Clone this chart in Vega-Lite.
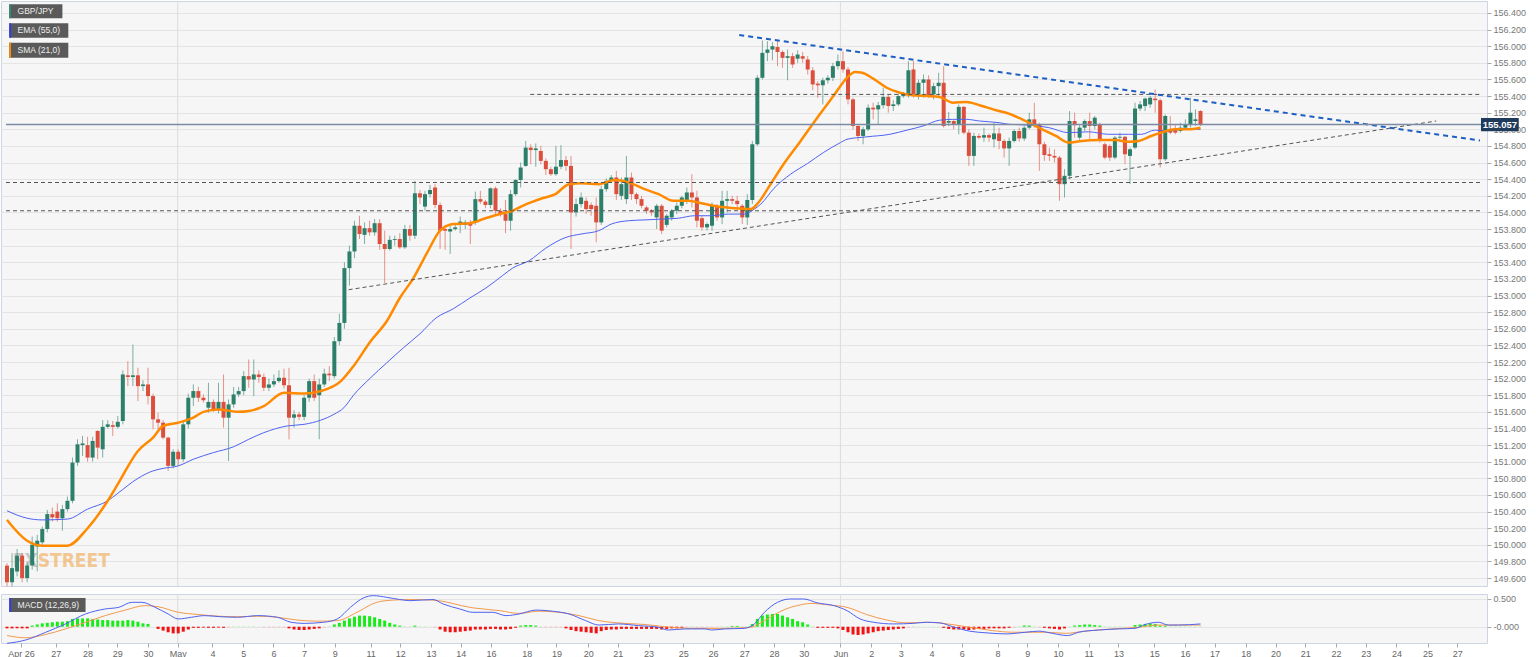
{
"$schema":"https://vega.github.io/schema/vega-lite/v6.json",
"padding":0,
"background":"white",
"config":{"view":{"stroke":"#cdd4e2","fill":"#f6f6f6"},"axis":{"labelFont":"Liberation Sans","labelFontSize":9,"labelColor":"#666666","tickColor":"#aaaaaa","domain":false,"gridColor":"#e4e4e4","labelOverlap":false,"labelBound":false,"tickCount":300},"concat":{"spacing":5},"text":{"font":"Liberation Sans"}},
"datasets":{
"one":[{"t":""}],
"candles":[
{"i":0,"o":149.75,"h":149.78,"l":149.5,"c":149.55,"m":-0.03},
{"i":1,"o":149.55,"h":149.9,"l":149.5,"c":149.72,"m":-0.03},
{"i":2,"o":149.68,"h":149.95,"l":149.62,"c":149.87,"m":-0.03},
{"i":3,"o":149.87,"h":149.9,"l":149.55,"c":149.6,"m":-0.03},
{"i":4,"o":149.6,"h":149.8,"l":149.55,"c":149.75,"m":-0.03},
{"i":5,"o":149.75,"h":150.1,"l":149.7,"c":150.0,"m":0.02},
{"i":6,"o":149.98,"h":150.12,"l":149.68,"c":150.05,"m":0.04},
{"i":7,"o":150.03,"h":150.22,"l":149.98,"c":150.19,"m":0.06},
{"i":8,"o":150.19,"h":150.42,"l":150.15,"c":150.37,"m":0.07},
{"i":9,"o":150.37,"h":150.45,"l":150.28,"c":150.33,"m":0.08},
{"i":10,"o":150.4,"h":150.5,"l":150.28,"c":150.32,"m":0.09},
{"i":11,"o":150.32,"h":150.48,"l":150.17,"c":150.43,"m":0.09},
{"i":12,"o":150.43,"h":150.58,"l":150.4,"c":150.53,"m":0.1},
{"i":13,"o":150.53,"h":151.05,"l":150.5,"c":150.99,"m":0.14},
{"i":14,"o":150.99,"h":151.27,"l":150.95,"c":151.21,"m":0.15},
{"i":15,"o":151.2,"h":151.31,"l":151.07,"c":151.22,"m":0.15},
{"i":16,"o":151.2,"h":151.3,"l":151.0,"c":151.05,"m":0.15},
{"i":17,"o":151.05,"h":151.3,"l":151.0,"c":151.25,"m":0.14},
{"i":18,"o":151.37,"h":151.38,"l":151.03,"c":151.17,"m":0.13},
{"i":19,"o":151.15,"h":151.5,"l":151.05,"c":151.42,"m":0.12},
{"i":20,"o":151.42,"h":151.5,"l":151.4,"c":151.45,"m":0.12},
{"i":21,"o":151.44,"h":151.49,"l":151.31,"c":151.42,"m":0.11},
{"i":22,"o":151.42,"h":151.55,"l":151.4,"c":151.48,"m":0.11},
{"i":23,"o":151.49,"h":152.1,"l":151.45,"c":152.05,"m":0.11},
{"i":24,"o":152.04,"h":152.21,"l":151.91,"c":152.02,"m":0.12},
{"i":25,"o":152.02,"h":152.41,"l":151.91,"c":152.04,"m":0.11},
{"i":26,"o":152.04,"h":152.13,"l":151.73,"c":151.91,"m":0.09},
{"i":27,"o":151.91,"h":151.98,"l":151.85,"c":151.93,"m":0.06},
{"i":28,"o":151.93,"h":152.13,"l":151.69,"c":151.79,"m":0.05},
{"i":29,"o":151.79,"h":151.82,"l":151.39,"c":151.51,"m":0.0},
{"i":30,"o":151.51,"h":151.59,"l":151.39,"c":151.47,"m":-0.04},
{"i":31,"o":151.47,"h":151.5,"l":151.27,"c":151.29,"m":-0.07},
{"i":32,"o":151.29,"h":151.3,"l":150.89,"c":150.95,"m":-0.1},
{"i":33,"o":150.95,"h":151.15,"l":150.92,"c":151.12,"m":-0.12},
{"i":34,"o":151.12,"h":151.15,"l":150.95,"c":151.03,"m":-0.12},
{"i":35,"o":151.03,"h":151.5,"l":151.0,"c":151.45,"m":-0.09},
{"i":36,"o":151.45,"h":151.82,"l":151.4,"c":151.77,"m":-0.05},
{"i":37,"o":151.77,"h":151.93,"l":151.67,"c":151.85,"m":-0.02},
{"i":38,"o":151.85,"h":151.9,"l":151.72,"c":151.77,"m":-0.02},
{"i":39,"o":151.77,"h":151.81,"l":151.71,"c":151.74,"m":-0.015},
{"i":40,"o":151.65,"h":151.95,"l":151.59,"c":151.72,"m":-0.02},
{"i":41,"o":151.72,"h":151.75,"l":151.6,"c":151.63,"m":-0.02},
{"i":42,"o":151.63,"h":151.95,"l":151.58,"c":151.72,"m":-0.015},
{"i":43,"o":151.72,"h":152.05,"l":151.41,"c":151.53,"m":-0.02},
{"i":44,"o":151.53,"h":151.75,"l":151.01,"c":151.69,"m":-0.01},
{"i":45,"o":151.69,"h":151.9,"l":151.65,"c":151.81,"m":0.01},
{"i":46,"o":151.81,"h":151.9,"l":151.78,"c":151.85,"m":0.01},
{"i":47,"o":151.85,"h":152.09,"l":151.8,"c":152.03,"m":0.01},
{"i":48,"o":152.03,"h":152.23,"l":151.89,"c":151.99,"m":0.01},
{"i":49,"o":151.99,"h":152.23,"l":151.79,"c":152.05,"m":0.01},
{"i":50,"o":152.05,"h":152.1,"l":151.95,"c":152.02,"m":0.005},
{"i":51,"o":152.02,"h":152.06,"l":151.85,"c":151.89,"m":-0.01},
{"i":52,"o":151.89,"h":152.0,"l":151.85,"c":151.93,"m":-0.01},
{"i":53,"o":151.93,"h":152.05,"l":151.9,"c":151.97,"m":-0.01},
{"i":54,"o":151.97,"h":152.1,"l":151.95,"c":152.01,"m":-0.01},
{"i":55,"o":152.01,"h":152.12,"l":151.88,"c":151.92,"m":-0.01},
{"i":56,"o":151.92,"h":152.13,"l":151.27,"c":151.53,"m":-0.03},
{"i":57,"o":151.53,"h":151.62,"l":151.41,"c":151.57,"m":-0.05},
{"i":58,"o":151.57,"h":151.6,"l":151.5,"c":151.54,"m":-0.06},
{"i":59,"o":151.54,"h":151.8,"l":151.5,"c":151.77,"m":-0.06},
{"i":60,"o":151.77,"h":152.0,"l":151.72,"c":151.97,"m":-0.05},
{"i":61,"o":151.97,"h":152.05,"l":151.73,"c":151.77,"m":-0.04},
{"i":62,"o":151.8,"h":152.0,"l":151.27,"c":151.93,"m":-0.03},
{"i":63,"o":151.93,"h":152.12,"l":151.9,"c":152.06,"m":-0.01},
{"i":64,"o":152.06,"h":152.15,"l":151.97,"c":152.04,"m":0.01},
{"i":65,"o":152.03,"h":152.5,"l":152.0,"c":152.45,"m":0.04},
{"i":66,"o":152.45,"h":152.78,"l":152.4,"c":152.67,"m":0.07},
{"i":67,"o":152.67,"h":153.4,"l":152.6,"c":153.33,"m":0.11},
{"i":68,"o":153.33,"h":153.6,"l":153.12,"c":153.53,"m":0.15},
{"i":69,"o":153.53,"h":153.9,"l":153.45,"c":153.84,"m":0.18},
{"i":70,"o":153.84,"h":153.96,"l":153.68,"c":153.74,"m":0.2},
{"i":71,"o":153.73,"h":153.88,"l":153.62,"c":153.81,"m":0.2},
{"i":72,"o":153.81,"h":153.9,"l":153.72,"c":153.76,"m":0.19},
{"i":73,"o":153.76,"h":153.92,"l":153.72,"c":153.87,"m":0.17},
{"i":74,"o":153.87,"h":153.92,"l":153.55,"c":153.62,"m":0.14},
{"i":75,"o":153.62,"h":153.78,"l":153.15,"c":153.56,"m":0.11},
{"i":76,"o":153.56,"h":153.72,"l":153.54,"c":153.67,"m":0.07},
{"i":77,"o":153.67,"h":153.72,"l":153.6,"c":153.68,"m":0.04},
{"i":78,"o":153.68,"h":153.75,"l":153.56,"c":153.58,"m":0.02},
{"i":79,"o":153.58,"h":153.85,"l":153.56,"c":153.8,"m":0.01},
{"i":80,"o":153.8,"h":153.85,"l":153.66,"c":153.72,"m":0.01},
{"i":81,"o":153.72,"h":154.38,"l":153.68,"c":154.23,"m":0.02},
{"i":82,"o":154.23,"h":154.27,"l":154.1,"c":154.18,"m":0.01},
{"i":83,"o":154.07,"h":154.26,"l":154.02,"c":154.22,"m":0.01},
{"i":84,"o":154.22,"h":154.33,"l":154.18,"c":154.27,"m":0.005},
{"i":85,"o":154.3,"h":154.34,"l":154.05,"c":154.09,"m":-0.01},
{"i":86,"o":154.09,"h":154.12,"l":153.56,"c":153.78,"m":-0.05},
{"i":87,"o":153.8,"h":153.85,"l":153.55,"c":153.78,"m":-0.09},
{"i":88,"o":153.77,"h":153.84,"l":153.5,"c":153.8,"m":-0.1},
{"i":89,"o":153.8,"h":153.85,"l":153.78,"c":153.82,"m":-0.1},
{"i":90,"o":153.85,"h":153.95,"l":153.75,"c":153.89,"m":-0.09},
{"i":91,"o":153.85,"h":153.91,"l":153.8,"c":153.88,"m":-0.08},
{"i":92,"o":153.88,"h":153.91,"l":153.62,"c":153.84,"m":-0.07},
{"i":93,"o":153.88,"h":154.25,"l":153.85,"c":154.16,"m":-0.05},
{"i":94,"o":154.16,"h":154.26,"l":154.1,"c":154.13,"m":-0.05},
{"i":95,"o":154.13,"h":154.15,"l":154.05,"c":154.09,"m":-0.05},
{"i":96,"o":154.09,"h":154.3,"l":154.05,"c":154.29,"m":-0.04},
{"i":97,"o":154.29,"h":154.31,"l":153.98,"c":154.02,"m":-0.04},
{"i":98,"o":154.02,"h":154.05,"l":153.95,"c":153.98,"m":-0.05},
{"i":99,"o":153.98,"h":154.15,"l":153.75,"c":153.9,"m":-0.05},
{"i":100,"o":153.9,"h":154.27,"l":153.78,"c":154.22,"m":-0.04},
{"i":101,"o":154.22,"h":154.4,"l":154.2,"c":154.39,"m":-0.02},
{"i":102,"o":154.39,"h":154.6,"l":154.3,"c":154.54,"m":0.02},
{"i":103,"o":154.56,"h":154.86,"l":154.55,"c":154.78,"m":0.03},
{"i":104,"o":154.78,"h":154.82,"l":154.58,"c":154.75,"m":0.03},
{"i":105,"o":154.75,"h":154.83,"l":154.55,"c":154.77,"m":0.02},
{"i":106,"o":154.74,"h":154.8,"l":154.58,"c":154.62,"m":-0.01},
{"i":107,"o":154.62,"h":154.65,"l":154.45,"c":154.52,"m":-0.01},
{"i":108,"o":154.52,"h":154.55,"l":154.44,"c":154.46,"m":-0.01},
{"i":109,"o":154.46,"h":154.8,"l":154.44,"c":154.55,"m":-0.01},
{"i":110,"o":154.55,"h":154.81,"l":154.52,"c":154.63,"m":-0.01},
{"i":111,"o":154.63,"h":154.68,"l":154.5,"c":154.56,"m":-0.03},
{"i":112,"o":154.56,"h":154.68,"l":153.56,"c":154.0,"m":-0.06},
{"i":113,"o":154.0,"h":154.17,"l":153.95,"c":154.1,"m":-0.08},
{"i":114,"o":154.1,"h":154.24,"l":154.06,"c":154.18,"m":-0.09},
{"i":115,"o":154.14,"h":154.18,"l":153.98,"c":154.04,"m":-0.1},
{"i":116,"o":154.09,"h":154.12,"l":153.96,"c":154.04,"m":-0.11},
{"i":117,"o":154.08,"h":154.18,"l":153.64,"c":153.88,"m":-0.12},
{"i":118,"o":153.88,"h":154.32,"l":153.85,"c":154.28,"m":-0.08},
{"i":119,"o":154.28,"h":154.41,"l":154.25,"c":154.38,"m":-0.06},
{"i":120,"o":154.38,"h":154.45,"l":154.36,"c":154.42,"m":-0.05},
{"i":121,"o":154.42,"h":154.5,"l":154.15,"c":154.22,"m":-0.05},
{"i":122,"o":154.2,"h":154.42,"l":154.15,"c":154.34,"m":-0.04},
{"i":123,"o":154.16,"h":154.68,"l":154.1,"c":154.42,"m":-0.04},
{"i":124,"o":154.42,"h":154.48,"l":154.15,"c":154.22,"m":-0.04},
{"i":125,"o":154.22,"h":154.24,"l":154.1,"c":154.16,"m":-0.04},
{"i":126,"o":154.16,"h":154.2,"l":154.05,"c":154.08,"m":-0.04},
{"i":127,"o":154.06,"h":154.08,"l":153.98,"c":154.02,"m":-0.04},
{"i":128,"o":154.02,"h":154.04,"l":153.96,"c":154.0,"m":-0.04},
{"i":129,"o":153.94,"h":154.1,"l":153.8,"c":154.08,"m":-0.04},
{"i":130,"o":154.08,"h":154.1,"l":153.74,"c":153.78,"m":-0.05},
{"i":131,"o":153.85,"h":153.98,"l":153.82,"c":153.96,"m":-0.04},
{"i":132,"o":153.94,"h":154.04,"l":153.9,"c":154.02,"m":-0.03},
{"i":133,"o":154.02,"h":154.12,"l":153.98,"c":154.08,"m":-0.03},
{"i":134,"o":154.08,"h":154.2,"l":154.05,"c":154.18,"m":-0.02},
{"i":135,"o":154.14,"h":154.3,"l":154.1,"c":154.24,"m":-0.01},
{"i":136,"o":154.24,"h":154.46,"l":154.06,"c":154.18,"m":0.01},
{"i":137,"o":154.18,"h":154.26,"l":153.82,"c":153.9,"m":-0.01},
{"i":138,"o":153.93,"h":153.96,"l":153.78,"c":153.82,"m":-0.01},
{"i":139,"o":153.82,"h":153.88,"l":153.78,"c":153.86,"m":-0.01},
{"i":140,"o":153.84,"h":154.12,"l":153.78,"c":154.08,"m":-0.01},
{"i":141,"o":154.08,"h":154.1,"l":153.9,"c":153.94,"m":-0.005},
{"i":142,"o":153.94,"h":154.26,"l":153.86,"c":154.14,"m":0.01},
{"i":143,"o":154.14,"h":154.26,"l":154.0,"c":154.16,"m":0.01},
{"i":144,"o":154.16,"h":154.2,"l":154.1,"c":154.14,"m":0.015},
{"i":145,"o":154.14,"h":154.2,"l":154.05,"c":154.1,"m":0.015},
{"i":146,"o":154.08,"h":154.1,"l":153.86,"c":153.94,"m":0.01},
{"i":147,"o":153.94,"h":154.22,"l":153.85,"c":154.15,"m":0.01},
{"i":148,"o":154.15,"h":154.86,"l":154.1,"c":154.82,"m":0.05},
{"i":149,"o":154.82,"h":155.65,"l":154.8,"c":155.62,"m":0.14},
{"i":150,"o":155.62,"h":156.07,"l":155.6,"c":155.92,"m":0.2},
{"i":151,"o":155.92,"h":156.06,"l":155.82,"c":155.96,"m":0.22},
{"i":152,"o":155.96,"h":156.05,"l":155.83,"c":156.0,"m":0.23},
{"i":153,"o":155.99,"h":156.06,"l":155.76,"c":155.93,"m":0.23},
{"i":154,"o":155.93,"h":155.95,"l":155.74,"c":155.86,"m":0.2},
{"i":155,"o":155.86,"h":155.96,"l":155.59,"c":155.88,"m":0.17},
{"i":156,"o":155.88,"h":155.92,"l":155.74,"c":155.78,"m":0.14},
{"i":157,"o":155.85,"h":155.95,"l":155.8,"c":155.9,"m":0.1},
{"i":158,"o":155.88,"h":155.93,"l":155.8,"c":155.85,"m":0.08},
{"i":159,"o":155.84,"h":155.88,"l":155.66,"c":155.72,"m":0.04},
{"i":160,"o":155.71,"h":155.75,"l":155.47,"c":155.54,"m":0.01},
{"i":161,"o":155.55,"h":155.58,"l":155.38,"c":155.53,"m":-0.02},
{"i":162,"o":155.53,"h":155.62,"l":155.3,"c":155.59,"m":-0.02},
{"i":163,"o":155.59,"h":155.65,"l":155.55,"c":155.62,"m":-0.02},
{"i":164,"o":155.62,"h":155.8,"l":155.58,"c":155.76,"m":-0.02},
{"i":165,"o":155.76,"h":155.9,"l":155.72,"c":155.82,"m":-0.03},
{"i":166,"o":155.82,"h":155.94,"l":155.68,"c":155.72,"m":-0.06},
{"i":167,"o":155.72,"h":155.75,"l":155.3,"c":155.36,"m":-0.1},
{"i":168,"o":155.36,"h":155.38,"l":155.0,"c":155.04,"m":-0.14},
{"i":169,"o":155.04,"h":155.05,"l":154.86,"c":154.92,"m":-0.15},
{"i":170,"o":154.92,"h":155.03,"l":154.82,"c":155.0,"m":-0.14},
{"i":171,"o":155.0,"h":155.3,"l":154.98,"c":155.26,"m":-0.12},
{"i":172,"o":155.26,"h":155.32,"l":155.12,"c":155.24,"m":-0.1},
{"i":173,"o":155.24,"h":155.33,"l":155.06,"c":155.29,"m":-0.08},
{"i":174,"o":155.29,"h":155.5,"l":155.25,"c":155.39,"m":-0.07},
{"i":175,"o":155.39,"h":155.42,"l":155.2,"c":155.28,"m":-0.06},
{"i":176,"o":155.28,"h":155.35,"l":155.22,"c":155.3,"m":-0.05},
{"i":177,"o":155.3,"h":155.42,"l":155.28,"c":155.4,"m":-0.04},
{"i":178,"o":155.4,"h":155.45,"l":155.38,"c":155.42,"m":-0.03},
{"i":179,"o":155.42,"h":155.82,"l":155.38,"c":155.71,"m":-0.01},
{"i":180,"o":155.72,"h":155.82,"l":155.38,"c":155.42,"m":0.01},
{"i":181,"o":155.42,"h":155.6,"l":155.36,"c":155.56,"m":0.005},
{"i":182,"o":155.56,"h":155.66,"l":155.38,"c":155.6,"m":0.005},
{"i":183,"o":155.6,"h":155.65,"l":155.38,"c":155.4,"m":0.005},
{"i":184,"o":155.42,"h":155.56,"l":155.36,"c":155.52,"m":0.005},
{"i":185,"o":155.52,"h":155.68,"l":155.38,"c":155.56,"m":0.005},
{"i":186,"o":155.56,"h":155.76,"l":155.02,"c":155.04,"m":-0.02},
{"i":187,"o":155.08,"h":155.21,"l":155.04,"c":155.1,"m":-0.04},
{"i":188,"o":155.1,"h":155.12,"l":155.0,"c":155.06,"m":-0.05},
{"i":189,"o":155.06,"h":155.3,"l":154.94,"c":155.27,"m":-0.05},
{"i":190,"o":155.27,"h":155.28,"l":154.94,"c":154.96,"m":-0.05},
{"i":191,"o":154.96,"h":155.0,"l":154.56,"c":154.68,"m":-0.06},
{"i":192,"o":154.68,"h":154.96,"l":154.56,"c":154.92,"m":-0.05},
{"i":193,"o":154.92,"h":154.95,"l":154.88,"c":154.9,"m":-0.04},
{"i":194,"o":154.9,"h":155.02,"l":154.85,"c":154.93,"m":-0.04},
{"i":195,"o":154.93,"h":154.95,"l":154.85,"c":154.9,"m":-0.03},
{"i":196,"o":154.88,"h":155.08,"l":154.78,"c":154.95,"m":-0.03},
{"i":197,"o":154.95,"h":155.02,"l":154.76,"c":154.86,"m":-0.03},
{"i":198,"o":154.86,"h":154.88,"l":154.66,"c":154.77,"m":-0.03},
{"i":199,"o":154.77,"h":154.9,"l":154.56,"c":154.86,"m":-0.02},
{"i":200,"o":154.86,"h":155.0,"l":154.84,"c":154.98,"m":-0.01},
{"i":201,"o":154.98,"h":155.02,"l":154.85,"c":154.89,"m":0.01},
{"i":202,"o":154.89,"h":155.04,"l":154.86,"c":155.02,"m":0.02},
{"i":203,"o":155.02,"h":155.2,"l":155.0,"c":155.12,"m":0.02},
{"i":204,"o":155.12,"h":155.32,"l":155.02,"c":155.06,"m":0.01},
{"i":205,"o":155.06,"h":155.08,"l":154.5,"c":154.82,"m":-0.01},
{"i":206,"o":154.82,"h":154.85,"l":154.62,"c":154.69,"m":-0.02},
{"i":207,"o":154.7,"h":154.78,"l":154.62,"c":154.68,"m":-0.03},
{"i":208,"o":154.68,"h":154.76,"l":154.6,"c":154.66,"m":-0.04},
{"i":209,"o":154.66,"h":154.68,"l":154.14,"c":154.34,"m":-0.05},
{"i":210,"o":154.34,"h":154.52,"l":154.18,"c":154.44,"m":-0.03},
{"i":211,"o":154.44,"h":155.22,"l":154.4,"c":155.1,"m":0.01},
{"i":212,"o":155.1,"h":155.2,"l":154.9,"c":155.05,"m":0.02},
{"i":213,"o":154.9,"h":155.05,"l":154.86,"c":155.02,"m":0.03},
{"i":214,"o":155.02,"h":155.12,"l":154.98,"c":155.1,"m":0.04},
{"i":215,"o":155.1,"h":155.2,"l":154.88,"c":155.04,"m":0.04},
{"i":216,"o":155.04,"h":155.16,"l":155.0,"c":155.14,"m":0.03},
{"i":217,"o":155.06,"h":155.08,"l":154.84,"c":154.86,"m":0.02},
{"i":218,"o":154.82,"h":154.84,"l":154.64,"c":154.66,"m":0.01},
{"i":219,"o":154.8,"h":154.82,"l":154.62,"c":154.66,"m":0.01},
{"i":220,"o":154.66,"h":154.92,"l":154.64,"c":154.9,"m":0.01},
{"i":221,"o":154.9,"h":154.96,"l":154.88,"c":154.91,"m":0.01},
{"i":222,"o":154.91,"h":154.92,"l":154.58,"c":154.7,"m":0.005},
{"i":223,"o":154.68,"h":154.78,"l":154.34,"c":154.76,"m":0.005},
{"i":224,"o":154.78,"h":155.32,"l":154.76,"c":155.25,"m":0.03},
{"i":225,"o":155.25,"h":155.34,"l":155.22,"c":155.3,"m":0.04},
{"i":226,"o":155.28,"h":155.38,"l":155.22,"c":155.37,"m":0.05},
{"i":227,"o":155.3,"h":155.4,"l":155.26,"c":155.38,"m":0.06},
{"i":228,"o":155.37,"h":155.48,"l":155.2,"c":155.35,"m":0.05},
{"i":229,"o":155.35,"h":155.37,"l":154.54,"c":154.64,"m":0.02},
{"i":230,"o":154.64,"h":155.18,"l":154.62,"c":155.16,"m":0.02},
{"i":231,"o":155.0,"h":155.16,"l":154.94,"c":154.96,"m":0.01},
{"i":232,"o":154.99,"h":155.05,"l":154.94,"c":154.96,"m":0.01},
{"i":233,"o":154.98,"h":155.08,"l":154.96,"c":155.02,"m":0.01},
{"i":234,"o":155.02,"h":155.12,"l":155.0,"c":155.06,"m":0.01},
{"i":235,"o":155.05,"h":155.38,"l":155.02,"c":155.2,"m":0.01},
{"i":236,"o":155.1,"h":155.24,"l":155.04,"c":155.12,"m":0.01},
{"i":237,"o":155.22,"h":155.23,"l":155.04,"c":155.057,"m":0.01}
],
"sma":[{"i":0,"v":150.3},{"i":4,"v":150.05},{"i":7,"v":149.99},{"i":12,"v":149.99},{"i":16,"v":150.2},{"i":20,"v":150.53},{"i":22,"v":150.73},{"i":26,"v":151.13},{"i":29,"v":151.29},{"i":31,"v":151.43},{"i":34,"v":151.47},{"i":37,"v":151.53},{"i":39,"v":151.6},{"i":42,"v":151.63},{"i":46,"v":151.6},{"i":48,"v":151.61},{"i":51,"v":151.67},{"i":55,"v":151.83},{"i":59,"v":151.82},{"i":62.3,"v":151.85},{"i":66.3,"v":151.97},{"i":68.8,"v":152.15},{"i":72.2,"v":152.45},{"i":75.4,"v":152.69},{"i":78,"v":152.97},{"i":80.7,"v":153.21},{"i":83.3,"v":153.5},{"i":86,"v":153.78},{"i":88.6,"v":153.86},{"i":91.9,"v":153.87},{"i":95,"v":153.93},{"i":98.4,"v":153.99},{"i":100.4,"v":154.02},{"i":102.4,"v":154.08},{"i":106.3,"v":154.17},{"i":108.9,"v":154.22},{"i":111.6,"v":154.34},{"i":114.2,"v":154.35},{"i":117.5,"v":154.34},{"i":120.7,"v":154.39},{"i":124,"v":154.35},{"i":126.6,"v":154.28},{"i":129.4,"v":154.22},{"i":132.3,"v":154.14},{"i":135.3,"v":154.14},{"i":137.9,"v":154.11},{"i":141.2,"v":154.07},{"i":144.4,"v":154.05},{"i":147.7,"v":154.04},{"i":149.1,"v":154.11},{"i":151.1,"v":154.29},{"i":154.2,"v":154.58},{"i":157.6,"v":154.86},{"i":160.9,"v":155.14},{"i":164.1,"v":155.4},{"i":166.8,"v":155.62},{"i":168.4,"v":155.69},{"i":169.8,"v":155.68},{"i":172,"v":155.61},{"i":174.7,"v":155.5},{"i":177.3,"v":155.44},{"i":179.9,"v":155.41},{"i":182.6,"v":155.4},{"i":185.2,"v":155.39},{"i":187.8,"v":155.32},{"i":190.5,"v":155.33},{"i":193.1,"v":155.29},{"i":197,"v":155.22},{"i":198.4,"v":155.2},{"i":201.6,"v":155.12},{"i":204.9,"v":155.02},{"i":208.3,"v":154.92},{"i":210.8,"v":154.84},{"i":213.4,"v":154.86},{"i":216.8,"v":154.87},{"i":220.1,"v":154.87},{"i":222.7,"v":154.85},{"i":224.7,"v":154.86},{"i":227.2,"v":154.92},{"i":229.2,"v":154.96},{"i":231.9,"v":155.0},{"i":234.5,"v":155.0},{"i":237,"v":155.02}],
"ema":[{"i":0,"v":150.41},{"i":4,"v":150.32},{"i":7,"v":150.3},{"i":12,"v":150.31},{"i":16,"v":150.43},{"i":20,"v":150.53},{"i":22,"v":150.62},{"i":26,"v":150.8},{"i":29,"v":150.89},{"i":31,"v":150.92},{"i":34,"v":150.95},{"i":37,"v":151.03},{"i":41,"v":151.11},{"i":45,"v":151.18},{"i":48,"v":151.27},{"i":51,"v":151.35},{"i":55.6,"v":151.43},{"i":59,"v":151.45},{"i":62.3,"v":151.5},{"i":64.9,"v":151.57},{"i":66.9,"v":151.65},{"i":68.8,"v":151.8},{"i":72.2,"v":152.01},{"i":75.4,"v":152.19},{"i":78.7,"v":152.37},{"i":82,"v":152.54},{"i":85.2,"v":152.73},{"i":88.6,"v":152.84},{"i":91.9,"v":152.97},{"i":95.1,"v":153.09},{"i":98.4,"v":153.24},{"i":100.4,"v":153.33},{"i":103.7,"v":153.42},{"i":107,"v":153.57},{"i":111,"v":153.7},{"i":114,"v":153.74},{"i":117.5,"v":153.78},{"i":120,"v":153.86},{"i":123.4,"v":153.9},{"i":126.7,"v":153.91},{"i":130,"v":153.92},{"i":133.3,"v":153.93},{"i":136.5,"v":153.96},{"i":139.8,"v":153.96},{"i":143.2,"v":153.98},{"i":146.4,"v":153.98},{"i":148.4,"v":154.04},{"i":149.7,"v":154.1},{"i":152.3,"v":154.29},{"i":155.6,"v":154.46},{"i":159,"v":154.59},{"i":162.1,"v":154.72},{"i":165.5,"v":154.84},{"i":166.8,"v":154.88},{"i":170.8,"v":154.91},{"i":175.3,"v":154.94},{"i":178.7,"v":154.99},{"i":181.9,"v":155.04},{"i":185.2,"v":155.11},{"i":187.8,"v":155.12},{"i":190.5,"v":155.12},{"i":193.1,"v":155.1},{"i":197,"v":155.08},{"i":199,"v":155.06},{"i":203,"v":155.05},{"i":206.9,"v":155.02},{"i":210.8,"v":154.96},{"i":214.8,"v":154.97},{"i":218.7,"v":154.94},{"i":222.7,"v":154.94},{"i":225.3,"v":154.94},{"i":227.9,"v":154.99},{"i":230.6,"v":154.98},{"i":233.1,"v":155.0},{"i":237,"v":155.0}],
"macd":[{"i":0,"v":-0.3},{"i":3.7,"v":-0.24},{"i":7.7,"v":-0.1},{"i":11.6,"v":0.05},{"i":15.6,"v":0.23},{"i":19.5,"v":0.32},{"i":22.2,"v":0.35},{"i":24.8,"v":0.44},{"i":26.8,"v":0.44},{"i":29.4,"v":0.35},{"i":32,"v":0.23},{"i":34,"v":0.14},{"i":36.6,"v":0.17},{"i":39.2,"v":0.2},{"i":42.5,"v":0.18},{"i":45.8,"v":0.17},{"i":49.8,"v":0.2},{"i":53.7,"v":0.17},{"i":56.4,"v":0.08},{"i":59,"v":0.06},{"i":62.9,"v":0.08},{"i":65.6,"v":0.14},{"i":68.2,"v":0.35},{"i":70.8,"v":0.52},{"i":72.8,"v":0.56},{"i":75.4,"v":0.53},{"i":78,"v":0.49},{"i":80,"v":0.47},{"i":84.6,"v":0.49},{"i":86.6,"v":0.41},{"i":89.9,"v":0.32},{"i":92.5,"v":0.26},{"i":96.4,"v":0.26},{"i":99.1,"v":0.2},{"i":101.7,"v":0.23},{"i":105,"v":0.3},{"i":108.3,"v":0.28},{"i":111.6,"v":0.23},{"i":114.9,"v":0.11},{"i":117.5,"v":0.03},{"i":121.4,"v":0.05},{"i":125.4,"v":0.02},{"i":129.3,"v":-0.01},{"i":131.3,"v":-0.06},{"i":134.6,"v":-0.04},{"i":138.6,"v":-0.04},{"i":139.9,"v":-0.06},{"i":142.5,"v":-0.04},{"i":146.4,"v":-0.03},{"i":148.4,"v":0.05},{"i":150.4,"v":0.26},{"i":153,"v":0.44},{"i":155.6,"v":0.5},{"i":158.2,"v":0.5},{"i":160.9,"v":0.43},{"i":164.2,"v":0.38},{"i":166.8,"v":0.29},{"i":169.4,"v":0.14},{"i":172.1,"v":0.08},{"i":176,"v":0.05},{"i":180,"v":0.06},{"i":182.6,"v":0.08},{"i":185.2,"v":0.07},{"i":187.8,"v":0.0},{"i":191.1,"v":-0.08},{"i":194.4,"v":-0.11},{"i":198.4,"v":-0.13},{"i":202.3,"v":-0.1},{"i":204.9,"v":-0.08},{"i":207.6,"v":-0.12},{"i":210.6,"v":-0.16},{"i":212.8,"v":-0.1},{"i":216.8,"v":-0.06},{"i":220.7,"v":-0.04},{"i":224,"v":-0.03},{"i":226,"v":0.04},{"i":228.7,"v":0.08},{"i":230.6,"v":0.03},{"i":232.6,"v":0.03},{"i":237,"v":0.05}],
"sig":[{"i":0,"v":-0.16},{"i":3.7,"v":-0.2},{"i":7.7,"v":-0.14},{"i":11.6,"v":-0.04},{"i":15.6,"v":0.08},{"i":19.5,"v":0.2},{"i":23.5,"v":0.3},{"i":27.4,"v":0.38},{"i":30,"v":0.36},{"i":34,"v":0.26},{"i":38,"v":0.22},{"i":41.9,"v":0.19},{"i":45.8,"v":0.18},{"i":49.8,"v":0.19},{"i":53.7,"v":0.17},{"i":57.6,"v":0.12},{"i":61.6,"v":0.1},{"i":65.6,"v":0.11},{"i":69.5,"v":0.26},{"i":73.4,"v":0.44},{"i":76.7,"v":0.48},{"i":80,"v":0.49},{"i":84.6,"v":0.48},{"i":92.5,"v":0.34},{"i":97.8,"v":0.29},{"i":101.7,"v":0.24},{"i":105.6,"v":0.28},{"i":109.6,"v":0.26},{"i":113.6,"v":0.2},{"i":117.5,"v":0.11},{"i":122.7,"v":0.06},{"i":126.7,"v":0.04},{"i":130.6,"v":0.0},{"i":135.9,"v":-0.03},{"i":142.5,"v":-0.03},{"i":147.7,"v":-0.01},{"i":150.4,"v":0.11},{"i":153.7,"v":0.28},{"i":155.6,"v":0.35},{"i":156.9,"v":0.38},{"i":159.6,"v":0.42},{"i":163.5,"v":0.39},{"i":166.8,"v":0.35},{"i":170.7,"v":0.22},{"i":174.7,"v":0.12},{"i":178.6,"v":0.07},{"i":182.6,"v":0.08},{"i":185.9,"v":0.06},{"i":190.5,"v":0.0},{"i":195.7,"v":-0.07},{"i":199.7,"v":-0.1},{"i":206.3,"v":-0.1},{"i":210.2,"v":-0.12},{"i":214.1,"v":-0.08},{"i":219.4,"v":-0.04},{"i":224.7,"v":-0.01},{"i":228.7,"v":0.03},{"i":232.6,"v":0.03},{"i":237,"v":0.03}],
"months":[{"i":33.9},{"i":165.5}],
"levels":[{"p":155.42,"a":103.9,"b":292.9},{"p":154.36,"a":-0.2,"b":292.9},{"p":154.02,"a":-0.2,"b":292.9}],
"trends":[{"k":"blue","a":145.4,"pa":156.135,"b":292.5,"pb":154.865},{"k":"black","a":67.85,"pa":153.07,"b":283.8,"pb":155.1}]
},
"vconcat":[
{
"width":1486,"height":585,
"layer":[
{"data":{"name":"months"},"mark":{"type":"rule","color":"#dcdcdc","strokeWidth":1},
 "encoding":{"x":{"field":"i","type":"quantitative","scale":{"domain":[-0.2,292.9],"nice":false,"zero":false},"axis":null}}},
{"data":{"name":"candles"},"mark":{"type":"rule","strokeWidth":1,"opacity":0},
 "encoding":{"x":{"field":"i","type":"quantitative","scale":{"domain":[-0.2,292.9],"nice":false,"zero":false},"axis":null},
  "y":{"field":"l","type":"quantitative","scale":{"domain":[149.5047,156.544],"nice":false,"zero":false},
   "axis":{"orient":"right","title":null,"values":[149.6,149.8,150,150.2,150.4,150.6,150.8,151,151.2,151.4,151.6,151.8,152,152.2,152.4,152.6,152.8,153,153.2,153.4,153.6,153.8,154,154.2,154.4,154.6,154.8,155,155.2,155.4,155.6,155.8,156,156.2,156.4],"tickCount":300,"format":".3f","grid":true,"tickSize":4,"labelPadding":2,"labelColor":"#777777","labelOverlap":false}}}},
{"data":{"name":"one"},"mark":{"type":"text","align":"right","baseline":"middle","font":"DejaVu Sans Condensed, Liberation Sans, sans-serif","fontSize":19,"fontWeight":"bold","color":"#9a9a9a","opacity":0.5},
 "encoding":{"text":{"value":"FX"},"x":{"datum":6.1,"type":"quantitative","scale":{"domain":[-0.2,292.9],"nice":false,"zero":false},"axis":null},"y":{"datum":149.805,"type":"quantitative","scale":{"domain":[149.5047,156.544],"nice":false,"zero":false}}}},
{"data":{"name":"one"},"mark":{"type":"text","align":"left","baseline":"middle","font":"DejaVu Sans Condensed, Liberation Sans, sans-serif","fontSize":19,"fontWeight":"bold","color":"#f0a850","opacity":0.6},
 "encoding":{"text":{"value":"STREET"},"x":{"datum":6.1,"type":"quantitative","scale":{"domain":[-0.2,292.9],"nice":false,"zero":false},"axis":null},"y":{"datum":149.805,"type":"quantitative","scale":{"domain":[149.5047,156.544],"nice":false,"zero":false}}}},
{"data":{"name":"candles"},"mark":{"type":"rule","strokeWidth":1,"opacity":0.6},
 "encoding":{"x":{"field":"i","type":"quantitative","scale":{"domain":[-0.2,292.9],"nice":false,"zero":false},"axis":null},
  "y":{"field":"l","type":"quantitative","scale":{"domain":[149.5047,156.544],"nice":false,"zero":false}},
  "y2":{"field":"h"},
  "color":{"condition":{"test":"datum.c >= datum.o","value":"#2c7f69"},"value":"#dc4f3d"}}},
{"data":{"name":"candles"},"mark":{"type":"bar","size":4},
 "encoding":{"x":{"field":"i","type":"quantitative","scale":{"domain":[-0.2,292.9],"nice":false,"zero":false},"axis":null},
  "y":{"field":"o","type":"quantitative","scale":{"domain":[149.5047,156.544],"nice":false,"zero":false}},
  "y2":{"field":"c"},
  "color":{"condition":{"test":"datum.c >= datum.o","value":"#2c7f69"},"value":"#dc4f3d"}}},
{"data":{"name":"ema"},"mark":{"type":"line","color":"#4f63f2","strokeWidth":1,"interpolate":"monotone"},
 "encoding":{"x":{"field":"i","type":"quantitative","scale":{"domain":[-0.2,292.9],"nice":false,"zero":false},"axis":null},
  "y":{"field":"v","type":"quantitative","scale":{"domain":[149.5047,156.544],"nice":false,"zero":false}}}},
{"data":{"name":"sma"},"mark":{"type":"line","color":"#ff8a00","strokeWidth":2.5,"interpolate":"monotone"},
 "encoding":{"x":{"field":"i","type":"quantitative","scale":{"domain":[-0.2,292.9],"nice":false,"zero":false},"axis":null},
  "y":{"field":"v","type":"quantitative","scale":{"domain":[149.5047,156.544],"nice":false,"zero":false}}}},
{"data":{"name":"levels"},"mark":{"type":"rule","color":"#555555","strokeWidth":1,"strokeDash":[4,3]},
 "encoding":{"x":{"field":"a","type":"quantitative","scale":{"domain":[-0.2,292.9],"nice":false,"zero":false},"axis":null},"x2":{"field":"b"},
  "y":{"field":"p","type":"quantitative","scale":{"domain":[149.5047,156.544],"nice":false,"zero":false}}}},
{"data":{"name":"trends"},"transform":[{"filter":"datum.k == 'black'"}],"mark":{"type":"rule","color":"#555555","strokeWidth":1,"strokeDash":[4,3]},
 "encoding":{"x":{"field":"a","type":"quantitative","scale":{"domain":[-0.2,292.9],"nice":false,"zero":false},"axis":null},"x2":{"field":"b"},
  "y":{"field":"pa","type":"quantitative","scale":{"domain":[149.5047,156.544],"nice":false,"zero":false}},"y2":{"field":"pb"}}},
{"data":{"name":"trends"},"transform":[{"filter":"datum.k == 'blue'"}],"mark":{"type":"rule","color":"#1d5fc4","strokeWidth":2,"strokeDash":[5,4]},
 "encoding":{"x":{"field":"a","type":"quantitative","scale":{"domain":[-0.2,292.9],"nice":false,"zero":false},"axis":null},"x2":{"field":"b"},
  "y":{"field":"pa","type":"quantitative","scale":{"domain":[149.5047,156.544],"nice":false,"zero":false}},"y2":{"field":"pb"}}},
{"data":{"name":"one"},"mark":{"type":"rule","color":"#7b8ba2","strokeWidth":1.5},
 "encoding":{"x":{"datum":-0.2,"type":"quantitative","scale":{"domain":[-0.2,292.9],"nice":false,"zero":false},"axis":null},"x2":{"datum":292.9},
  "y":{"datum":155.057,"type":"quantitative","scale":{"domain":[149.5047,156.544],"nice":false,"zero":false}}}},
{"data":{"name":"one"},"mark":{"type":"rect","color":"#5a5a5a"},
 "encoding":{"x":{"datum":0.45,"type":"quantitative","scale":{"domain":[-0.2,292.9],"nice":false,"zero":false},"axis":null},"x2":{"datum":11.0},
  "y":{"datum":156.504,"type":"quantitative","scale":{"domain":[149.5047,156.544],"nice":false,"zero":false}},"y2":{"datum":156.336}}},
{"data":{"name":"one"},"mark":{"type":"rect","color":"#5a5a5a"},
 "encoding":{"x":{"datum":0.45,"type":"quantitative","scale":{"domain":[-0.2,292.9],"nice":false,"zero":false},"axis":null},"x2":{"datum":12.17},
  "y":{"datum":156.276,"type":"quantitative","scale":{"domain":[149.5047,156.544],"nice":false,"zero":false}},"y2":{"datum":156.103}}},
{"data":{"name":"one"},"mark":{"type":"rect","color":"#5a5a5a"},
 "encoding":{"x":{"datum":0.45,"type":"quantitative","scale":{"domain":[-0.2,292.9],"nice":false,"zero":false},"axis":null},"x2":{"datum":12.17},
  "y":{"datum":156.043,"type":"quantitative","scale":{"domain":[149.5047,156.544],"nice":false,"zero":false}},"y2":{"datum":155.862}}},
{"data":{"name":"one"},"mark":{"type":"rect","color":"#2e8b74"},
 "encoding":{"x":{"datum":0.45,"type":"quantitative","scale":{"domain":[-0.2,292.9],"nice":false,"zero":false},"axis":null},"x2":{"datum":0.8},
  "y":{"datum":156.504,"type":"quantitative","scale":{"domain":[149.5047,156.544],"nice":false,"zero":false}},"y2":{"datum":156.336}}},
{"data":{"name":"one"},"mark":{"type":"rect","color":"#2a3cf0"},
 "encoding":{"x":{"datum":0.45,"type":"quantitative","scale":{"domain":[-0.2,292.9],"nice":false,"zero":false},"axis":null},"x2":{"datum":0.8},
  "y":{"datum":156.276,"type":"quantitative","scale":{"domain":[149.5047,156.544],"nice":false,"zero":false}},"y2":{"datum":156.103}}},
{"data":{"name":"one"},"mark":{"type":"rect","color":"#ff8a00"},
 "encoding":{"x":{"datum":0.45,"type":"quantitative","scale":{"domain":[-0.2,292.9],"nice":false,"zero":false},"axis":null},"x2":{"datum":0.8},
  "y":{"datum":156.043,"type":"quantitative","scale":{"domain":[149.5047,156.544],"nice":false,"zero":false}},"y2":{"datum":155.862}}},
{"data":{"name":"one"},"mark":{"type":"text","align":"left","baseline":"middle","fontSize":8.5,"color":"#eeeeee"},
 "encoding":{"text":{"value":"GBP/JPY"},"x":{"datum":2.1,"type":"quantitative","scale":{"domain":[-0.2,292.9],"nice":false,"zero":false},"axis":null},"y":{"datum":156.42,"type":"quantitative","scale":{"domain":[149.5047,156.544],"nice":false,"zero":false}}}},
{"data":{"name":"one"},"mark":{"type":"text","align":"left","baseline":"middle","fontSize":8.5,"color":"#eeeeee"},
 "encoding":{"text":{"value":"EMA (55,0)"},"x":{"datum":2.1,"type":"quantitative","scale":{"domain":[-0.2,292.9],"nice":false,"zero":false},"axis":null},"y":{"datum":156.19,"type":"quantitative","scale":{"domain":[149.5047,156.544],"nice":false,"zero":false}}}},
{"data":{"name":"one"},"mark":{"type":"text","align":"left","baseline":"middle","fontSize":8.5,"color":"#eeeeee"},
 "encoding":{"text":{"value":"SMA (21,0)"},"x":{"datum":2.1,"type":"quantitative","scale":{"domain":[-0.2,292.9],"nice":false,"zero":false},"axis":null},"y":{"datum":155.953,"type":"quantitative","scale":{"domain":[149.5047,156.544],"nice":false,"zero":false}}}},
{"data":{"name":"one"},"mark":{"type":"rect","color":"#1f3b5c","clip":false},
 "encoding":{"x":{"datum":292.7,"type":"quantitative","scale":{"domain":[-0.2,292.9],"nice":false,"zero":false},"axis":null},"x2":{"datum":300.2},
  "y":{"datum":155.137,"type":"quantitative","scale":{"domain":[149.5047,156.544],"nice":false,"zero":false}},"y2":{"datum":154.977}}},
{"data":{"name":"one"},"mark":{"type":"text","align":"center","baseline":"middle","fontSize":9.5,"fontWeight":"bold","color":"#ffffff","clip":false},
 "encoding":{"text":{"value":"155.057"},"x":{"datum":296.45,"type":"quantitative","scale":{"domain":[-0.2,292.9],"nice":false,"zero":false},"axis":null},"y":{"datum":155.057,"type":"quantitative","scale":{"domain":[149.5047,156.544],"nice":false,"zero":false}}}}
]
},
{
"width":1486,"height":49,
"layer":[
{"data":{"name":"months"},"mark":{"type":"rule","color":"#dcdcdc","strokeWidth":1},
 "encoding":{"x":{"field":"i","type":"quantitative","scale":{"domain":[-0.2,292.9],"nice":false,"zero":false}}}},
{"data":{"name":"candles"},"mark":{"type":"bar","size":3},
 "encoding":{"x":{"field":"i","type":"quantitative","scale":{"domain":[-0.2,292.9],"nice":false,"zero":false},
   "axis":{"orient":"bottom","title":null,"grid":false,"tickSize":4,"labelPadding":2,"labelFlush":false,"labelOverlap":false,"labelBound":false,"labelColor":"#666666","tickCount":300,
    "values":[2.8,9.7,16,21.9,28,33.9,40.8,46.9,52.9,59,65.1,72.2,78.1,84.2,90.1,96.1,103.2,109.1,115.4,121.3,127.4,134.3,140.2,146.4,152.3,158.2,165.5,171.6,177.5,183.6,189.6,196.7,202.6,208.7,214.8,220.7,227.8,233.9,239.8,246,251.9,257.8,263.9,269.8,275.9,282.1,288],
    "labelExpr":"['Apr 26','27','28','29','30','May','4','5','6','7','9','11','12','13','14','16','18','19','20','21','23','25','26','27','28','30','Jun','2','3','4','6','8','9','10','11','13','15','16','17','18','20','21','22','23','24','25','27'][indexof([28,97,160,219,280,339,408,469,529,590,651,722,781,842,901,961,1032,1091,1154,1213,1274,1343,1402,1464,1523,1582,1655,1716,1775,1836,1896,1967,2026,2087,2148,2207,2278,2339,2398,2460,2519,2578,2639,2698,2759,2821,2880], round(datum.value*10))]"}},
  "y":{"field":"m","type":"quantitative","scale":{"domain":[-0.294,0.59],"nice":false,"zero":false},
   "axis":{"orient":"right","title":null,"values":[0,0.5],"grid":true,"tickSize":4,"labelPadding":2,"labelColor":"#777777","labelExpr":"datum.value == 0 ? '-0.000' : format(datum.value, '.3f')"}},
  "y2":{"datum":0},
  "color":{"condition":{"test":"datum.m >= 0","value":"#18ec18"},"value":"#f21010"},
  "opacity":{"condition":{"test":"abs(datum.m) < 0.015","value":0.3},"value":1}}},
{"data":{"name":"sig"},"mark":{"type":"line","color":"#f39a4c","strokeWidth":1,"interpolate":"monotone"},
 "encoding":{"x":{"field":"i","type":"quantitative","scale":{"domain":[-0.2,292.9],"nice":false,"zero":false}},
  "y":{"field":"v","type":"quantitative","scale":{"domain":[-0.294,0.59],"nice":false,"zero":false}}}},
{"data":{"name":"macd"},"mark":{"type":"line","color":"#4f63f2","strokeWidth":1,"interpolate":"monotone"},
 "encoding":{"x":{"field":"i","type":"quantitative","scale":{"domain":[-0.2,292.9],"nice":false,"zero":false}},
  "y":{"field":"v","type":"quantitative","scale":{"domain":[-0.294,0.59],"nice":false,"zero":false}}}},
{"data":{"name":"one"},"mark":{"type":"rect","color":"#5a5a5a"},
 "encoding":{"x":{"datum":0.45,"type":"quantitative","scale":{"domain":[-0.2,292.9],"nice":false,"zero":false}},"x2":{"datum":15.6},
  "y":{"datum":0.518,"type":"quantitative","scale":{"domain":[-0.294,0.59],"nice":false,"zero":false}},"y2":{"datum":0.265}}},
{"data":{"name":"one"},"mark":{"type":"rect","color":"#2a3cf0"},
 "encoding":{"x":{"datum":0.45,"type":"quantitative","scale":{"domain":[-0.2,292.9],"nice":false,"zero":false}},"x2":{"datum":0.8},
  "y":{"datum":0.518,"type":"quantitative","scale":{"domain":[-0.294,0.59],"nice":false,"zero":false}},"y2":{"datum":0.265}}},
{"data":{"name":"one"},"mark":{"type":"text","align":"left","baseline":"middle","fontSize":8.5,"color":"#eeeeee"},
 "encoding":{"text":{"value":"MACD (12,26,9)"},"x":{"datum":2.1,"type":"quantitative","scale":{"domain":[-0.2,292.9],"nice":false,"zero":false}},"y":{"datum":0.39,"type":"quantitative","scale":{"domain":[-0.294,0.59],"nice":false,"zero":false}}}}
]
}
]
}
